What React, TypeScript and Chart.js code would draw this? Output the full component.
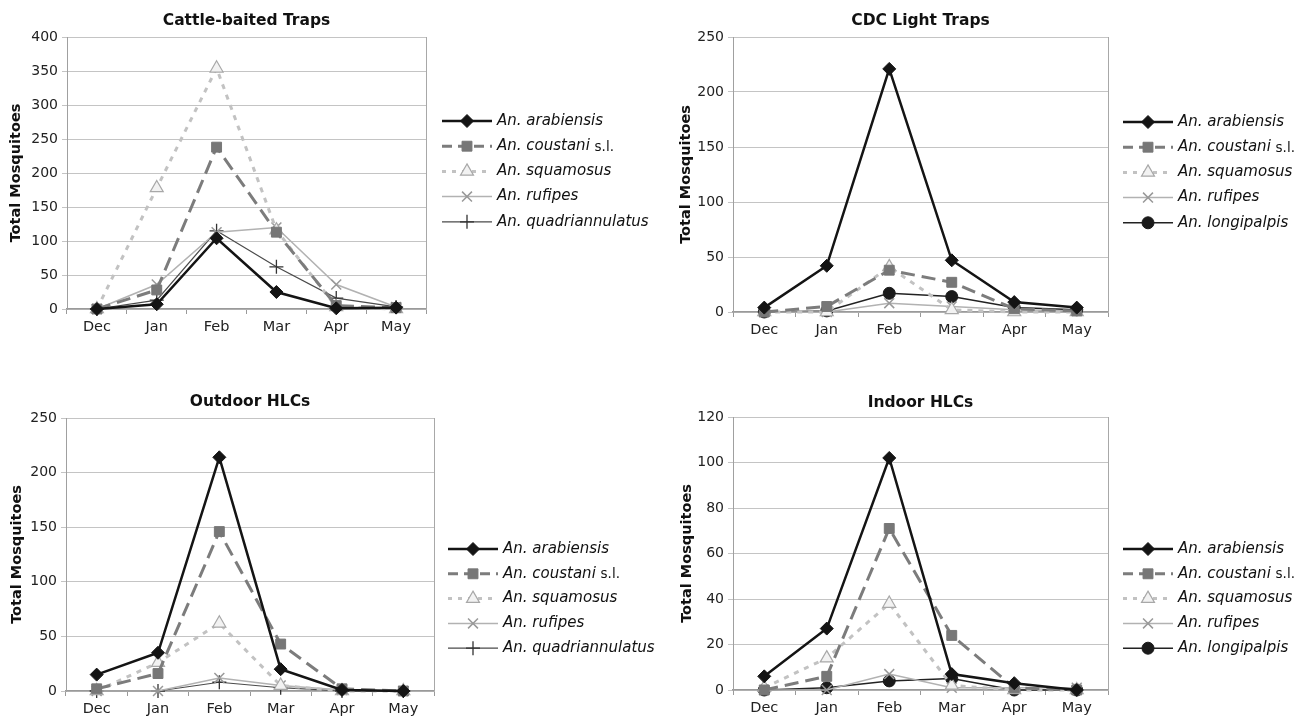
import React, { useEffect, useRef } from 'react';
import { Chart, registerables } from 'chart.js';

Chart.register(...registerables);

const months = ['Dec', 'Jan', 'Feb', 'Mar', 'Apr', 'May'];

const cattleArabiensis = [0, 7, 104, 25, 1, 2];
const cattleCoustani = [0, 28, 238, 113, 5, 2];
const cattleSquamosus = [0, 178, 354, 116, 3, 0];
const cattleRufipes = [0, 36, 113, 120, 36, 3];
const cattleQuadriannulatus = [0, 13, 115, 62, 16, 3];

const cdcArabiensis = [4, 42, 221, 47, 9, 4];
const cdcCoustani = [0, 5, 38, 27, 3, 1];
const cdcSquamosus = [0, 0, 41, 2, 0, 0];
const cdcRufipes = [0, 0, 8, 5, 2, 1];
const cdcLongipalpis = [0, 1, 17, 14, 4, 2];

const outdoorArabiensis = [15, 35, 214, 20, 1, 0];
const outdoorCoustani = [2, 16, 146, 43, 2, 0];
const outdoorSquamosus = [0, 26, 62, 5, 0, 0];
const outdoorRufipes = [0, 0, 12, 5, 1, 0];
const outdoorQuadriannulatus = [0, 0, 8, 3, 0, 0];

const indoorArabiensis = [6, 27, 102, 7, 3, 0];
const indoorCoustani = [0, 6, 71, 24, 1, 0];
const indoorSquamosus = [1, 14, 38, 2, 0, 0];
const indoorRufipes = [0, 0, 7, 1, 1, 1];
const indoorLongipalpis = [0, 1, 4, 5, 0, 0];

const FONT = '"DejaVu Sans", Verdana, sans-serif';

type Style = {
  color: string;
  width: number;
  dash: number[];
  point: string;
  radius: number;
  fill: string;
  pborder: string;
  pbw: number;
};

const STYLES: Record<string, Style> = {
  arabiensis: { color: '#141414', width: 2.5, dash: [], point: 'rectRot', radius: 6.5, fill: '#141414', pborder: '#141414', pbw: 1 },
  coustani: { color: '#7c7c7c', width: 3, dash: [14, 7], point: 'rect', radius: 7, fill: '#777777', pborder: '#777777', pbw: 1 },
  squamosus: { color: '#c2c2c2', width: 3, dash: [5, 6], point: 'triangle', radius: 7.5, fill: '#f2f2f2', pborder: '#a8a8a8', pbw: 1.2 },
  rufipes: { color: '#b2b2b2', width: 1.5, dash: [], point: 'crossRot', radius: 7, fill: '#999999', pborder: '#999999', pbw: 1.5 },
  quadriannulatus: { color: '#4a4a4a', width: 1.2, dash: [], point: 'cross', radius: 7, fill: '#333333', pborder: '#333333', pbw: 1.3 },
  longipalpis: { color: '#222222', width: 1.5, dash: [], point: 'circle', radius: 6, fill: '#1a1a1a', pborder: '#1a1a1a', pbw: 1 },
};

type Series = { key: string; data: number[] };

type PanelCfg = {
  title: string;
  yMax: number;
  yStep: number;
  series: Series[];
  left: number;
  top: number;
  width: number;
  height: number;
  areaLeft: number;
  areaTop: number;
  areaRight: number;
  areaBottom: number;
  titleY: number;
  yTitlePad: number;
  legendX: number;
  legendY: number;
  legendStep: number;
};

const PANELS: PanelCfg[] = [
  {
    title: 'Cattle-baited Traps', yMax: 400, yStep: 50,
    series: [
      { key: 'arabiensis', data: cattleArabiensis },
      { key: 'coustani', data: cattleCoustani },
      { key: 'squamosus', data: cattleSquamosus },
      { key: 'rufipes', data: cattleRufipes },
      { key: 'quadriannulatus', data: cattleQuadriannulatus },
    ],
    left: 0, top: 0, width: 660, height: 345,
    areaLeft: 67, areaTop: 37, areaRight: 426, areaBottom: 309,
    titleY: 21, yTitlePad: 8, legendX: 442, legendY: 121, legendStep: 25.2,
  },
  {
    title: 'CDC Light Traps', yMax: 250, yStep: 50,
    series: [
      { key: 'arabiensis', data: cdcArabiensis },
      { key: 'coustani', data: cdcCoustani },
      { key: 'squamosus', data: cdcSquamosus },
      { key: 'rufipes', data: cdcRufipes },
      { key: 'longipalpis', data: cdcLongipalpis },
    ],
    left: 660, top: 0, width: 650, height: 345,
    areaLeft: 73, areaTop: 37, areaRight: 448, areaBottom: 312,
    titleY: 21, yTitlePad: 18, legendX: 463, legendY: 122, legendStep: 25.2,
  },
  {
    title: 'Outdoor HLCs', yMax: 250, yStep: 50,
    series: [
      { key: 'arabiensis', data: outdoorArabiensis },
      { key: 'coustani', data: outdoorCoustani },
      { key: 'squamosus', data: outdoorSquamosus },
      { key: 'rufipes', data: outdoorRufipes },
      { key: 'quadriannulatus', data: outdoorQuadriannulatus },
    ],
    left: 0, top: 370, width: 660, height: 347,
    areaLeft: 66, areaTop: 48, areaRight: 434, areaBottom: 321,
    titleY: 32, yTitlePad: 9, legendX: 448, legendY: 179, legendStep: 24.8,
  },
  {
    title: 'Indoor HLCs', yMax: 120, yStep: 20,
    series: [
      { key: 'arabiensis', data: indoorArabiensis },
      { key: 'coustani', data: indoorCoustani },
      { key: 'squamosus', data: indoorSquamosus },
      { key: 'rufipes', data: indoorRufipes },
      { key: 'longipalpis', data: indoorLongipalpis },
    ],
    left: 660, top: 370, width: 650, height: 347,
    areaLeft: 73, areaTop: 47, areaRight: 448, areaBottom: 320,
    titleY: 33, yTitlePad: 19, legendX: 463, legendY: 179, legendStep: 24.8,
  },
];

function drawMarker(ctx: CanvasRenderingContext2D, st: Style, x: number, y: number) {
  const r = st.radius;
  ctx.save();
  ctx.setLineDash([]);
  ctx.fillStyle = st.fill;
  ctx.strokeStyle = st.pborder;
  ctx.lineWidth = st.pbw;
  ctx.beginPath();
  if (st.point === 'rectRot') {
    ctx.moveTo(x, y - r);
    ctx.lineTo(x + r, y);
    ctx.lineTo(x, y + r);
    ctx.lineTo(x - r, y);
    ctx.closePath();
    ctx.fill();
    ctx.stroke();
  } else if (st.point === 'rect') {
    const s = Math.SQRT1_2 * r;
    ctx.rect(x - s, y - s, 2 * s, 2 * s);
    ctx.fill();
    ctx.stroke();
  } else if (st.point === 'triangle') {
    for (let i = 0; i < 3; i++) {
      const a = (i * 2 * Math.PI) / 3;
      const px = x + Math.sin(a) * r;
      const py = y - Math.cos(a) * r;
      if (i === 0) ctx.moveTo(px, py);
      else ctx.lineTo(px, py);
    }
    ctx.closePath();
    ctx.fill();
    ctx.stroke();
  } else if (st.point === 'crossRot') {
    const d = Math.SQRT1_2 * r;
    ctx.moveTo(x - d, y - d);
    ctx.lineTo(x + d, y + d);
    ctx.moveTo(x + d, y - d);
    ctx.lineTo(x - d, y + d);
    ctx.stroke();
  } else if (st.point === 'cross') {
    ctx.moveTo(x, y - r);
    ctx.lineTo(x, y + r);
    ctx.moveTo(x - r, y);
    ctx.lineTo(x + r, y);
    ctx.stroke();
  } else {
    ctx.arc(x, y, r, 0, Math.PI * 2);
    ctx.fill();
    ctx.stroke();
  }
  ctx.restore();
}

function makeDecor(cfg: PanelCfg) {
  return {
    id: 'decor',
    afterDraw(chart: any) {
      const ctx: CanvasRenderingContext2D = chart.ctx;
      const ca = chart.chartArea;
      ctx.save();
      // right border
      ctx.strokeStyle = '#a8a8a8';
      ctx.lineWidth = 1;
      ctx.beginPath();
      ctx.moveTo(Math.round(ca.right) + 0.5, ca.top);
      ctx.lineTo(Math.round(ca.right) + 0.5, ca.bottom);
      ctx.stroke();
      // title
      ctx.fillStyle = '#111';
      ctx.font = `bold 15.5px ${FONT}`;
      ctx.textAlign = 'center';
      ctx.textBaseline = 'middle';
      ctx.fillText(cfg.title, (ca.left + ca.right) / 2, cfg.titleY);
      // legend
      cfg.series.forEach((s, i) => {
        const st = STYLES[s.key];
        const y = cfg.legendY + i * cfg.legendStep;
        const x0 = cfg.legendX;
        ctx.save();
        ctx.strokeStyle = st.color;
        ctx.lineWidth = st.width;
        ctx.setLineDash(st.dash.length ? (s.key === 'squamosus' ? [4, 6] : [10, 6]) : []);
        ctx.beginPath();
        ctx.moveTo(x0, y);
        ctx.lineTo(x0 + 50, y);
        ctx.stroke();
        ctx.restore();
        drawMarker(ctx, st, x0 + 25, y);
        ctx.fillStyle = '#111';
        ctx.textAlign = 'left';
        ctx.textBaseline = 'middle';
        ctx.font = `italic 15px ${FONT}`;
        const label = 'An. ' + s.key;
        ctx.fillText(label, x0 + 55, y);
        if (s.key === 'coustani') {
          const w = ctx.measureText(label + ' ').width;
          ctx.font = `13.5px ${FONT}`;
          ctx.fillText('s.l.', x0 + 55 + w, y + 1);
        }
      });
      ctx.restore();
    },
  };
}

function ChartPanel({ cfg }: { cfg: PanelCfg }) {
  const ref = useRef<HTMLCanvasElement>(null);
  useEffect(() => {
    const canvas = ref.current;
    if (!canvas) return;
    const chart = new Chart(canvas, {
      type: 'line',
      data: {
        labels: months,
        datasets: cfg.series.map((s) => {
          const st = STYLES[s.key];
          return {
            label: 'An. ' + s.key,
            data: s.data,
            borderColor: st.color,
            backgroundColor: st.fill,
            borderWidth: st.width,
            borderDash: st.dash,
            pointStyle: st.point as any,
            pointRadius: st.radius,
            pointBackgroundColor: st.fill,
            pointBorderColor: st.pborder,
            pointBorderWidth: st.pbw,
            tension: 0,
            fill: false,
            clip: false as any,
          };
        }),
      },
      options: {
        responsive: false,
        animation: false,
        devicePixelRatio: 1,
        events: [],
        layout: {
          padding: { top: cfg.areaTop, right: cfg.width - cfg.areaRight, left: 0, bottom: 0 },
        },
        plugins: {
          legend: { display: false },
          title: { display: false },
          tooltip: { enabled: false },
        },
        scales: {
          x: {
            offset: true,
            grid: { offset: true, drawOnChartArea: false, drawTicks: true, tickLength: 5, color: '#9a9a9a' },
            border: { color: '#9a9a9a', width: 1.5 },
            ticks: { color: '#222', font: { family: FONT, size: 14.5 }, padding: 5, maxRotation: 0, autoSkip: false },
            afterFit: (s: any) => {
              s.height = cfg.height - cfg.areaBottom;
            },
          },
          y: {
            min: 0,
            max: cfg.yMax,
            ticks: { stepSize: cfg.yStep, color: '#222', font: { family: FONT, size: 14 }, padding: 4 },
            grid: { color: '#c4c4c4', lineWidth: 1, tickLength: 5, drawTicks: true },
            border: { color: '#a0a0a0', width: 1 },
            title: {
              display: true,
              text: 'Total Mosquitoes',
              color: '#111',
              font: { family: FONT, size: 14.5, weight: 'bold' },
              padding: { top: cfg.yTitlePad, bottom: 0 },
            },
            afterFit: (s: any) => {
              s.width = cfg.areaLeft;
            },
          },
        },
      },
      plugins: [makeDecor(cfg)],
    });
    return () => chart.destroy();
  }, [cfg]);
  return (
    <canvas
      ref={ref}
      width={cfg.width}
      height={cfg.height}
      style={{ position: 'absolute', left: cfg.left, top: cfg.top, width: cfg.width, height: cfg.height }}
    />
  );
}

export default function App() {
  return (
    <div style={{ position: 'absolute', left: 0, top: 0, width: 1310, height: 717, background: '#fff', overflow: 'hidden' }}>
      {PANELS.map((p, i) => (
        <ChartPanel key={i} cfg={p} />
      ))}
    </div>
  );
}
